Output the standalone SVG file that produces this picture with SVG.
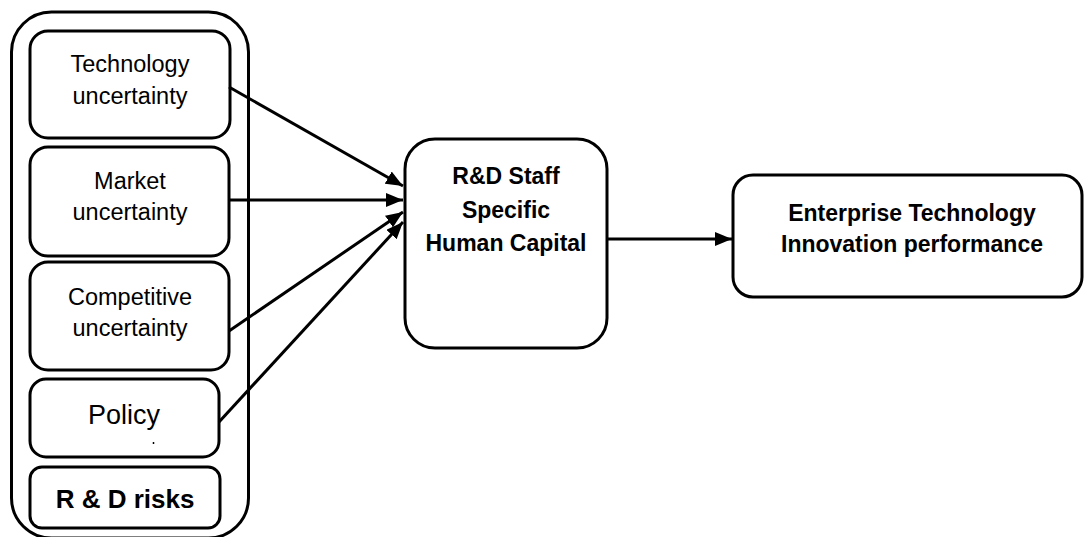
<svg xmlns="http://www.w3.org/2000/svg" width="1084" height="537" viewBox="0 0 1084 537">
<style>
.box{fill:#fff;stroke:#000;stroke-width:3}
.t{font-family:"Liberation Sans",Arial,sans-serif;font-size:23.5px;fill:#000;text-anchor:middle}
.b{font-family:"Liberation Sans",Arial,sans-serif;font-size:23px;font-weight:bold;fill:#000;text-anchor:middle}
.c{stroke:#000;stroke-width:3;fill:none;marker-end:url(#ah)}
</style>
<defs>
<marker id="ah" markerUnits="userSpaceOnUse" markerWidth="18" markerHeight="14" refX="17" refY="7" orient="auto">
<path d="M0,0 L17,7 L0,14 Z" fill="#000"/>
</marker>
</defs>
<rect width="1084" height="537" fill="#fff"/>
<g id="container"><rect class="box" x="11.5" y="12" width="237" height="526" rx="40"/></g>
<g id="tech"><rect class="box" x="30" y="31" width="200" height="107" rx="18"/>
<text class="t" x="130" y="72">Technology</text><text class="t" x="130" y="104">uncertainty</text></g>
<g id="market"><rect class="box" x="30" y="147" width="199" height="109" rx="18"/>
<text class="t" x="130" y="189">Market</text><text class="t" x="130" y="220">uncertainty</text></g>
<g id="competitive"><rect class="box" x="30" y="262" width="199" height="108" rx="18"/>
<text class="t" x="130" y="305">Competitive</text><text class="t" x="130" y="336">uncertainty</text></g>
<g id="policy"><rect class="box" x="30" y="379" width="189" height="78" rx="16"/>
<text class="t" x="124" y="424" style="font-size:27px">Policy</text>
<line x1="153.5" y1="442" x2="153.5" y2="444" stroke="#000" stroke-width="1.5"/></g>
<g id="rdrisks"><rect class="box" x="30" y="467" width="190" height="61" rx="12"/>
<text class="b" x="125" y="508" style="font-size:26px">R &amp; D risks</text></g>
<g id="hc"><rect class="box" x="405" y="139" width="202" height="209" rx="30"/>
<text class="b" x="506" y="184">R&amp;D Staff</text><text class="b" x="506" y="218">Specific</text><text class="b" x="506" y="251">Human Capital</text></g>
<g id="perf"><rect class="box" x="733" y="175" width="349" height="122" rx="20"/>
<text class="b" x="912" y="221">Enterprise Technology</text><text class="b" x="912" y="252">Innovation performance</text></g>
<g id="connectors">
<line class="c" x1="229" y1="87" x2="403" y2="186"/>
<line class="c" x1="229" y1="200" x2="403" y2="200"/>
<line class="c" x1="229" y1="331" x2="403" y2="212"/>
<line class="c" x1="219" y1="422" x2="403" y2="222"/>
<line class="c" x1="607" y1="239" x2="732" y2="239"/>
</g>
</svg>
